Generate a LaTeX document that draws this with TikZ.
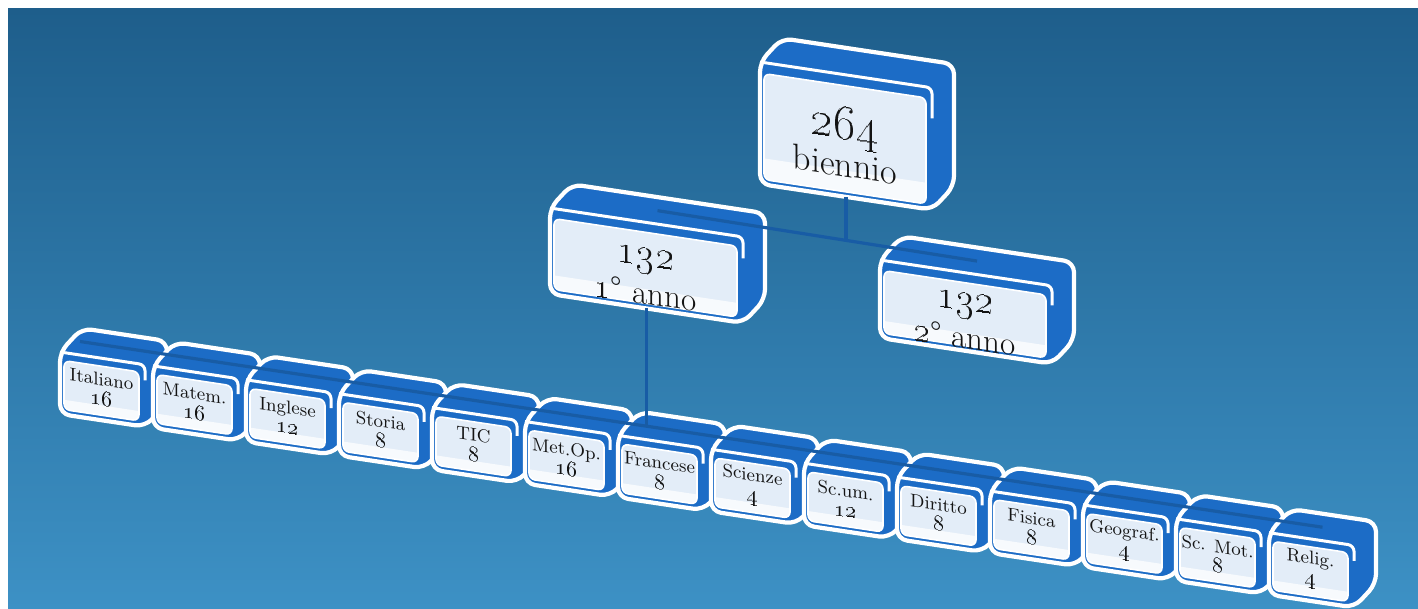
\documentclass[tikz,border=0pt]{standalone}
\usetikzlibrary{calc}
\definecolor{boxblue}{HTML}{1C6CC6}
\definecolor{panel}{HTML}{E3EDF8}
\definecolor{band}{HTML}{F7FAFD}
\definecolor{bgtop}{HTML}{1E5E8B}
\definecolor{bgbot}{HTML}{3D91C5}
\definecolor{conn}{HTML}{185CA5}
\tikzset{
  silhouette/.style={fill=boxblue, draw=white, line width=2.1pt, rounded corners=5pt, line join=round},
  frontedge/.style={draw=white, line width=1.5pt, rounded corners=3pt},
  panelrim/.style={draw=white, line width=0.8pt, rounded corners=3pt},
  boxtext/.style={yslant=-0.15, align=center, inner sep=0pt, text=black!92},
  connector/.style={draw=conn, line width=1.6pt}
}
% #1 name, #2 x, #3 y, #4 w, #5 h, #6 font, #7 text y, #8 text, #9 top inset
\newcommand\cube[9]{%
 \begin{scope}[shift={(#2,#3)}, yslant=-0.15]
  \path[silhouette] (0,#5) -- (0,0) -- (22,-27) -- ({#4+22},-27) -- ({#4+22},{#5-27}) -- (#4,#5) -- cycle;
  \path[frontedge] (0,0) -- (#4,0) -- (#4,{0.25*#5});
  \begin{scope}
   \clip[rounded corners=3pt] (4,#9) rectangle ({#4-6},{#5-5});
   \fill[panel] (4,#9) rectangle ({#4-6},{#5-5});
   \fill[band] (4,{#5-5-0.2*(#5-5-#9)}) rectangle ({#4-6},{#5-5});
  \end{scope}
  \path[panelrim] (4,#9) rectangle ({#4-6},{#5-5});
  \coordinate (#1-c) at ({#4/2-1},#7);
  \coordinate (#1-t) at ({#4/2+11},-13.5);
  \coordinate (#1-tl) at (20,-13.5);
  \coordinate (#1-b) at ({#4/2},#5);
  \coordinate (#1-d) at ({#4/2},{#5+300});
 \end{scope}
 \node[boxtext, font=#6] (#1) at (#1-c) {#8};}
\newcommand\osn[1]{\oldstylenums{#1}}
\newcommand\subj[2]{#1\\{\fontsize{11}{11}\selectfont\osn{#2}}}
\newcommand\bigtxt[3]{{\fontsize{#3}{#3}\selectfont\osn{#1}}\\#2}
\begin{document}
\begin{tikzpicture}[x=0.5pt, y=-0.5pt]
\fill[white] (0,0) rectangle (1418,609);
\shade[top color=bgtop, bottom color=bgbot] (8,9) rectangle (1418,609);
\useasboundingbox (0,0) rectangle (1418,609);

\cube{bi}{760}{62}{172}{122}{\fontsize{18}{19}\selectfont}{67}{\bigtxt{264}{biennio}{23}}{11}
\cube{annoA}{550}{208}{193}{86}{\fontsize{16.5}{19}\selectfont}{54}{\bigtxt{132}{\osn{1}° anno}{21}}{10}
\cube{annoB}{880}{260}{172}{78}{\fontsize{16.5}{19}\selectfont}{48}{\bigtxt{132}{\osn{2}° anno}{21}}{10}

\def\sf{\fontsize{9.2}{10}\selectfont}
\cube{it}{60}{352}{85}{62}{\sf}{31}{\subj{Italiano}{16}}{8}
\cube{ma}{153}{365.9}{85}{62}{\sf}{31}{\subj{Matem.}{16}}{8}
\cube{in}{246}{379.8}{85}{62}{\sf}{31}{\subj{Inglese}{12}}{8}
\cube{st}{339}{393.7}{85}{62}{\sf}{31}{\subj{Storia}{8}}{8}
\cube{ti}{432}{407.6}{85}{62}{\sf}{31}{\subj{TIC}{8}}{8}
\cube{me}{525}{421.5}{85}{62}{\sf}{31}{\subj{Met.Op.}{16}}{8}
\cube{fr}{618}{435.4}{85}{62}{\sf}{31}{\subj{Francese}{8}}{8}
\cube{sc}{711}{449.3}{85}{62}{\sf}{31}{\subj{Scienze}{4}}{8}
\cube{su}{804}{463.2}{85}{62}{\sf}{31}{\subj{Sc.um.}{12}}{8}
\cube{di}{897}{477.1}{85}{62}{\sf}{31}{\subj{Diritto}{8}}{8}
\cube{fi}{990}{491.0}{85}{62}{\sf}{31}{\subj{Fisica}{8}}{8}
\cube{ge}{1083}{504.9}{85}{62}{\sf}{31}{\subj{Geograf.}{4}}{8}
\cube{sm}{1176}{518.8}{85}{62}{\sf}{31}{\subj{Sc. Mot.}{8}}{8}
\cube{re}{1269}{532.7}{85}{62}{\sf}{31}{\subj{Relig.}{4}}{8}

\draw[connector] (annoA-t) -- (annoB-t);
\draw[connector] (bi-b) -- (intersection of annoA-t--annoB-t and bi-b--bi-d);
\draw[connector] (it-tl) -- (re-t);
\draw[connector] (annoA-b) -- (intersection of it-tl--re-t and annoA-b--annoA-d);
\end{tikzpicture}
\end{document}
